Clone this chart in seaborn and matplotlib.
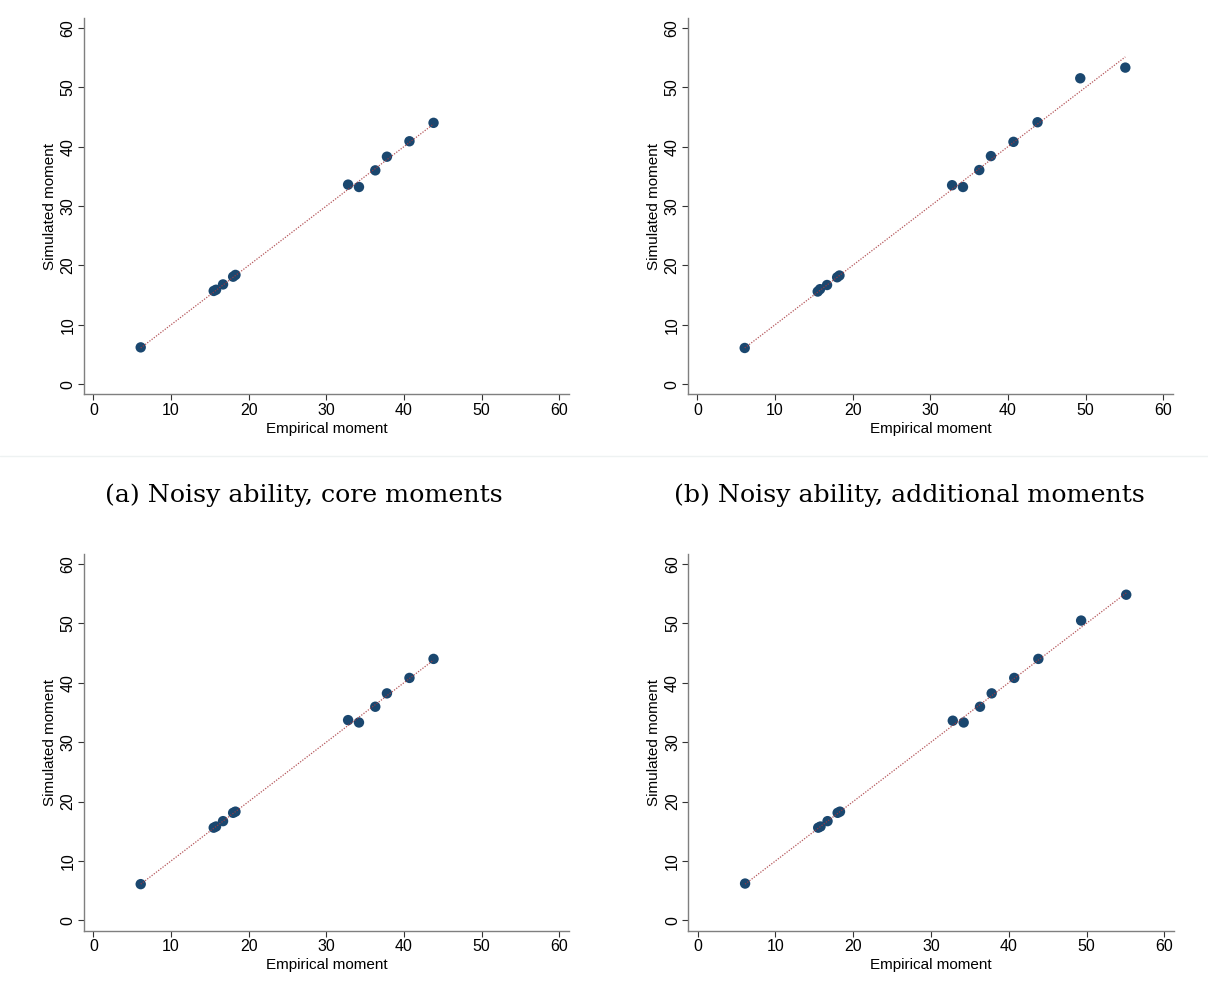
import matplotlib
matplotlib.use("Agg")
import matplotlib.pyplot as plt
import seaborn as sns
import numpy as np
import pandas as pd
from matplotlib.lines import Line2D

# ---- data ----
empirical = [6.1, 15.5, 15.8, 16.7, 18.0, 18.3, 32.8, 34.2, 36.3, 37.8, 40.7, 43.8, 49.3, 55.1]
sim_a = [6.2, 15.7, 15.9, 16.8, 18.1, 18.4, 33.6, 33.2, 36.0, 38.3, 40.9, 44.0]
sim_b = [6.1, 15.6, 16.0, 16.7, 18.0, 18.3, 33.5, 33.2, 36.05, 38.4, 40.8, 44.1, 51.5, 53.3]
sim_c = [6.1, 15.6, 15.8, 16.7, 18.1, 18.3, 33.7, 33.3, 35.95, 38.2, 40.8, 44.0]
sim_d = [6.2, 15.6, 15.8, 16.7, 18.1, 18.3, 33.6, 33.3, 35.95, 38.2, 40.8, 44.0, 50.45, 54.8]
ticks = [0, 10, 20, 30, 40, 50, 60]
captions = ["(a) Noisy ability, core moments", "(b) Noisy ability, additional moments"]
xlabel = "Empirical moment"
ylabel = "Simulated moment"

sns.set_style("ticks")
plt.rcParams["font.family"] = ["Liberation Sans", "DejaVu Sans"]
plt.rcParams["text.color"] = "black"
plt.rcParams["axes.labelcolor"] = "black"

W, H = 1208, 990
fig = plt.figure(figsize=(W / 100, H / 100), dpi=100)

navy = "#1a476f"
red = "#a8393e"
spine_col = "#7f7f7f"

# axes pixel boxes: (left, top, right, bottom)
boxes = [(84, 18.3, 568.7, 394.3), (688, 18.3, 1172.7, 394.3),
         (84, 554.3, 568.7, 930.5), (688.3, 554.3, 1173.7, 930.5)]
sims = [sim_a, sim_b, sim_c, sim_d]

for box, sim in zip(boxes, sims):
    l, t, r, b = box
    ax = fig.add_axes([l / W, 1 - b / H, (r - l) / W, (b - t) / H])
    n = len(sim)
    df = pd.DataFrame({"emp": empirical[:n], "sim": sim})
    line_df = pd.DataFrame({"x": [min(empirical[:n]), max(empirical[:n])],
                            "y": [min(empirical[:n]), max(empirical[:n])]})
    sns.scatterplot(data=df, x="emp", y="sim", ax=ax, color=navy, s=56,
                    edgecolor="none", zorder=2)
    sns.lineplot(data=line_df, x="x", y="y", ax=ax, color=red, lw=0.9,
                 linestyle=(0, (1, 1.2)), zorder=3, alpha=0.85)
    ax.set_xlim(-1.2, 61.2)
    ax.set_ylim(-1.7, 61.6)
    ax.set_xticks(ticks)
    ax.set_yticks(ticks)
    ax.set_xticklabels([str(v) for v in ticks], fontsize=11.5)
    ax.set_yticklabels([str(v) for v in ticks], fontsize=11.5, rotation=90, va="center")
    ax.set_xlabel(xlabel, fontsize=11, labelpad=3, color="black")
    ax.set_ylabel(ylabel, fontsize=11, labelpad=3, color="black")
    for side in ["top", "right"]:
        ax.spines[side].set_visible(False)
    for side in ["left", "bottom"]:
        ax.spines[side].set_color(spine_col)
        ax.spines[side].set_linewidth(1.0)
    ax.tick_params(axis="both", direction="out", length=4, width=0.8,
                   color="#333333", pad=2, labelcolor="black")
    ax.grid(False)

# faint separator line and captions
fig.add_artist(Line2D([0, 1], [1 - 456 / H, 1 - 456 / H], transform=fig.transFigure,
                      color="#eef2f2", lw=1))
fig.text(304 / W, 1 - 495 / H, captions[0], ha="center", va="center",
         fontsize=18.2, family=["DejaVu Serif"], color="black")
fig.text(909 / W, 1 - 495 / H, captions[1], ha="center", va="center",
         fontsize=18.2, family=["DejaVu Serif"], color="black")

fig.savefig("out.png", dpi=100)
